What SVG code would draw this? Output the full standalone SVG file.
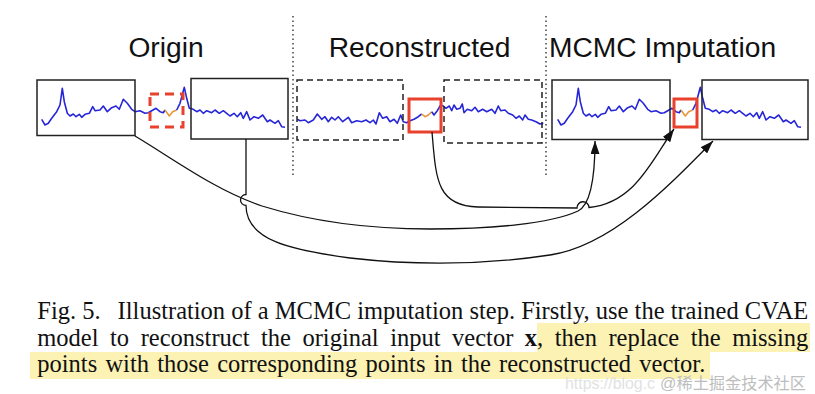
<svg xmlns="http://www.w3.org/2000/svg" xmlns:xlink="http://www.w3.org/1999/xlink" width="815" height="394" viewBox="0 0 815 394">
<style>
.ser{fill:none;stroke:#2626d8;stroke-width:1.6;stroke-linejoin:round}
.org{fill:none;stroke:#e8973a;stroke-width:1.6;stroke-linejoin:round}
.box{fill:none;stroke:#222;stroke-width:1.5}
.dbox{fill:none;stroke:#222;stroke-width:1.5;stroke-dasharray:6 4}
.red{fill:none;stroke:#e8412c;stroke-width:3}
.reddash{fill:none;stroke:#e8412c;stroke-width:3;stroke-dasharray:9 6}
.div{stroke:#333;stroke-width:1.4;stroke-dasharray:1.5 3}
.title{font-family:"Liberation Sans",Arial,Helvetica,sans-serif;font-size:28.2px;fill:#111;text-anchor:middle}
.conn{fill:none;stroke:#111;stroke-width:1.3}
.cap{font-family:"Liberation Serif","Times New Roman",serif;font-size:24.5px;fill:#111}
.hl{fill:#fcf2b4}
.wm{font-family:"Liberation Sans","Noto Sans CJK SC",sans-serif;font-size:16px}
</style>
<defs>
<marker id="ah" viewBox="0 0 10 10" refX="10" refY="5" markerWidth="13" markerHeight="9" markerUnits="userSpaceOnUse" orient="auto" preserveAspectRatio="none">
<path d="M0,0 L10,5 L0,10 z" fill="#111"/>
</marker>
<g id="seriesO">
<polyline class="ser" points="41.7,119.3 45,125 48.3,123.3 51.7,118.3 56.7,111.7 60,105 62.3,88.3 64.3,101.7 67.3,113.3 70,116 73.3,114 76,116.7 79.3,114.3 81.7,117.3 85,114.3 89.3,113.3 92.7,106.7 95,110.7 100,110 103.3,106 107.3,111.7 111.7,107.7 116,106 119.3,109.3 123.3,99.3 127.3,103.3 131.7,109.3 135,111.7 140,110.7 145,113.3 148.3,112.7 151.7,110.7 156,108.3 160,111.7 163.3,112.7 165,110"/>
<polyline class="org" points="165,110 169.3,116 172.7,111.7 176.7,110"/>
<polyline class="ser" points="176.7,110 180,103.3 182.7,93.3 184.3,87.3 186.7,98.3 189.3,108.3 193.3,109.3 196.7,111.7 200,110 203.3,113.3 206.7,110.7 211.7,112.7 215,110 219.3,113.3 223.3,110.7 226.7,113.3 230,116 234,113.3 237.3,116.7 240.7,112.7 243.3,118.3 246.7,111.7 250,120 254,116.7 258.3,118.3 262.7,115 267.3,121.7 270,120 275,123.3 278.3,120.7 281.7,126.7 285,127.3"/>
</g>
</defs>
<rect width="815" height="394" fill="#fff"/>

<g id="titles">
<text class="title" x="166" y="57">Origin</text>
<text class="title" x="419.5" y="57">Reconstructed</text>
<text class="title" x="662.5" y="57">MCMC Imputation</text>
</g>

<g id="dividers">
<line class="div" x1="293" y1="16" x2="293" y2="178"/>
<line class="div" x1="546" y1="16" x2="546" y2="178"/>
</g>

<g id="series">
<use xlink:href="#seriesO" href="#seriesO"/>
<polyline class="ser" points="297.3,119.3 300,120.7 305,120 308.3,122.7 313.3,120 317.3,114 321.7,119.3 325,116.7 328.3,121.7 331.7,117.3 335,120 338.3,116.7 342.7,121.7 348.3,117.3 351.7,122.7 356.7,120.7 361.7,121.7 366,120 370,122.7 373.3,120 376,124 379.3,112.7 382.7,118.3 386.7,116.7 390,121.7 394,119.3 397.3,123.3 400.7,115 403.3,121.7 406.7,122.7 410,120.7 414,119.3 418.3,116.7 421.7,114"/>
<polyline class="org" points="421.7,114 425,116.7 428.3,115 431.7,111.7"/>
<polyline class="ser" points="431.7,111.7 434,115 437.3,110.7 440.7,105 443.3,106 446,108.3 449.3,106 451.7,110.7 454,105 456.7,109.3 460,108.3 462.3,104 464,112.7 467.3,109.3 471.7,110.7 475,107.3 478.3,111.7 482.7,109.3 486.7,111.7 491.7,109.3 495,113.3 498.3,106 500.7,110.7 505,110 508.3,113.3 512.7,115 516,118.3 519.3,116 522.7,120 525,115 528.3,119.3 531.7,120 536,121.7 540,124 543.3,123.3"/>
<use xlink:href="#seriesO" href="#seriesO" transform="translate(516,0)"/>
</g>

<g id="origin-left"><rect class="box" x="37" y="80" width="98" height="55.5"/></g>
<g id="origin-missing"><rect class="reddash" x="150" y="94" width="33" height="33"/></g>
<g id="origin-right"><rect class="box" x="191" y="78.5" width="97" height="60.5"/></g>

<g id="recon-left"><rect class="dbox" x="297" y="80" width="106" height="60"/></g>
<g id="recon-missing"><rect class="red" x="409" y="99" width="32" height="33"/></g>
<g id="recon-right"><rect class="dbox" x="444" y="80" width="98" height="63"/></g>

<g id="mcmc-left"><rect class="box" x="552" y="80" width="118" height="59.5"/></g>
<g id="mcmc-missing"><rect class="red" x="674" y="99" width="23" height="28"/></g>
<g id="mcmc-right"><rect class="box" x="702" y="80" width="106" height="59.5"/></g>

<g id="connectors">
<path class="conn" marker-end="url(#ah)" d="M135,136 C175,160 215,190 262,206 C320,224 380,229 430,229 C490,229 550,224 578,211 C590,205 595,180 595,141"/>
<path class="conn" marker-end="url(#ah)" d="M432,132 C436,178 436,206 478,207 L577,208 A6,6 0 0 1 589,207.5 C635,203 652,160 674,129"/>
<path class="conn" marker-end="url(#ah)" d="M246,139 L246,194.5 A5.5,5.5 0 0 0 246,205.5 C246,240 290,250 350,258 C420,266 490,264 550,255 C610,246 665,190 713,141"/>
</g>

<g id="caption">
<rect class="hl" x="537" y="323" width="273" height="29"/>
<rect class="hl" x="30" y="352" width="680" height="27"/>
<text class="cap" x="37.3" y="319">Fig. 5.<tspan dx="17">Illustration of a MCMC imputation step. Firstly, use the trained CVAE</tspan></text>
<text class="cap" x="37.3" y="346" word-spacing="5.4">model to reconstruct the original input vector <tspan font-weight="bold">x</tspan>, then replace the missing</text>
<text class="cap" x="37.3" y="371.5" word-spacing="2.1">points with those corresponding points in the reconstructed vector.</text>
</g>

<g id="watermark">
<text class="wm" x="565" y="389" fill="#e2e2e2" textLength="90" lengthAdjust="spacingAndGlyphs">https://blog.c</text>
<text class="wm" x="660" y="389" fill="#bdbdbd" textLength="146" lengthAdjust="spacingAndGlyphs">@稀土掘金技术社区</text>
</g>
</svg>
